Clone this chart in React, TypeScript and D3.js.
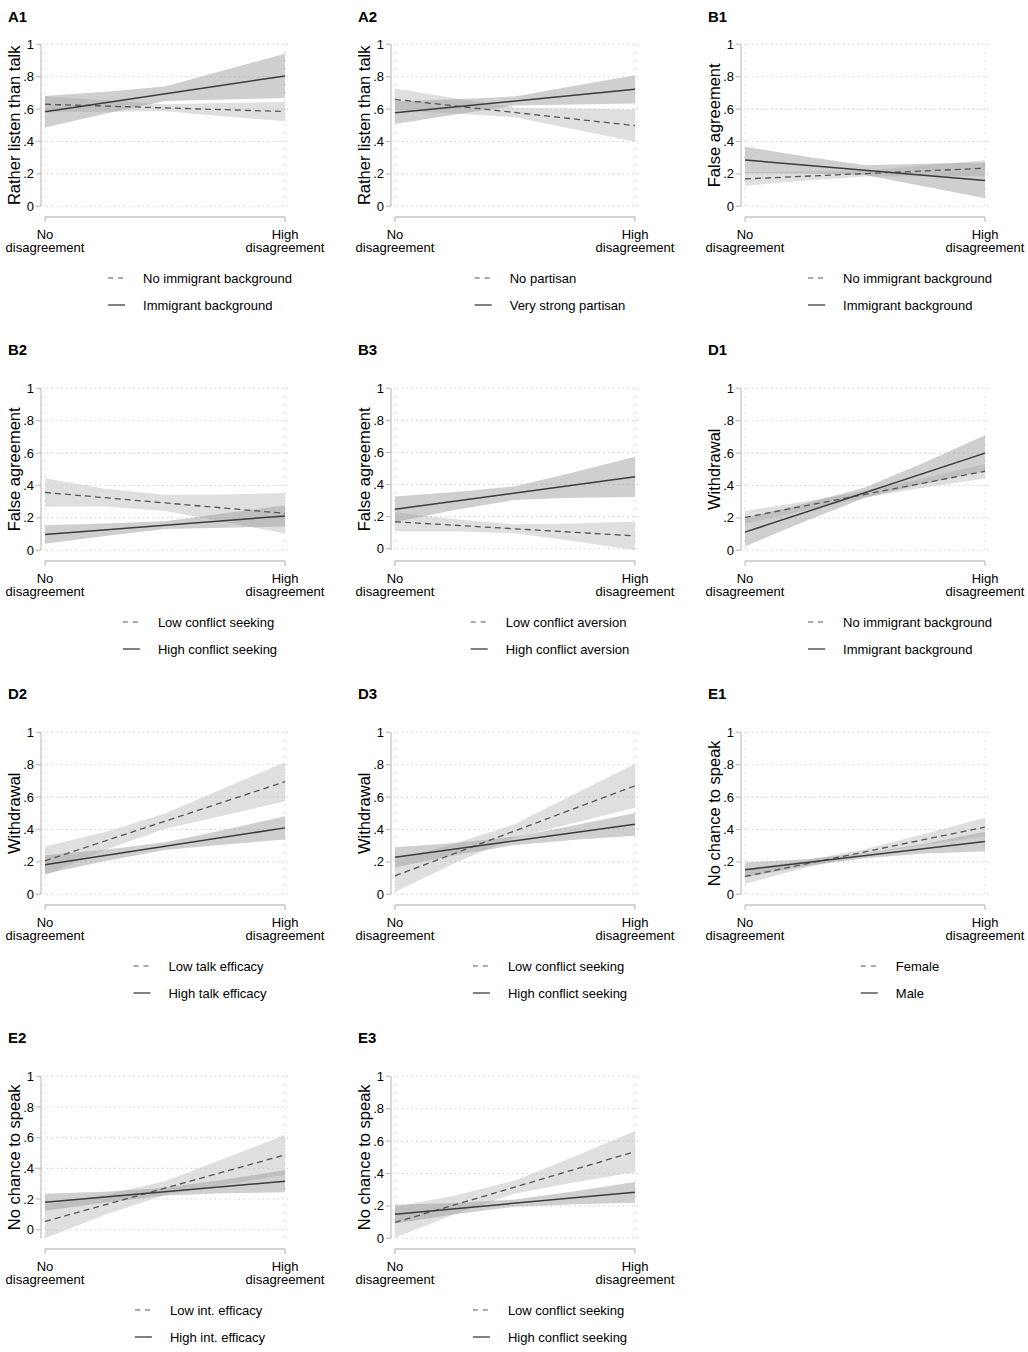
import React from "react";
import * as d3 from "d3";

// ---------- DATA ----------
const xPts = [0, 0.25, 0.5, 0.75, 1];
const xTickVals = [0, 1];
const xTickLines = [["No", "disagreement"], ["High", "disagreement"]];
const yTickVals = [0, 0.2, 0.4, 0.6, 0.8, 1];

const panelIds = ["A1", "A2", "B1", "B2", "B3", "D1", "D2", "D3", "E1", "E2", "E3"];
const yTitles = [
  "Rather listen than talk", "Rather listen than talk",
  "False agreement", "False agreement", "False agreement",
  "Withdrawal", "Withdrawal", "Withdrawal",
  "No chance to speak", "No chance to speak", "No chance to speak",
];
const dashNames = [
  "No immigrant background", "No partisan", "No immigrant background",
  "Low conflict seeking", "Low conflict aversion", "No immigrant background",
  "Low talk efficacy", "Low conflict seeking", "Female",
  "Low int. efficacy", "Low conflict seeking",
];
const solidNames = [
  "Immigrant background", "Very strong partisan", "Immigrant background",
  "High conflict seeking", "High conflict aversion", "Immigrant background",
  "High talk efficacy", "High conflict seeking", "Male",
  "High int. efficacy", "High conflict seeking",
];

// predicted values at No (0) and High (1) disagreement
const dashMean = [
  [0.63, 0.585], [0.66, 0.498], [0.169, 0.235], [0.357, 0.228], [0.168, 0.08],
  [0.203, 0.488], [0.207, 0.695], [0.114, 0.67], [0.11, 0.415], [0.054, 0.488], [0.098, 0.535],
];
const solidMean = [
  [0.584, 0.805], [0.578, 0.722], [0.286, 0.16], [0.098, 0.212], [0.246, 0.448],
  [0.112, 0.6], [0.183, 0.41], [0.228, 0.432], [0.151, 0.326], [0.179, 0.316], [0.149, 0.284],
];

// confidence bands at xPts
const dashLo = [
  [0.58, 0.584, 0.586, 0.555, 0.525],
  [0.593, 0.573, 0.549, 0.474, 0.398],
  [0.127, 0.157, 0.184, 0.185, 0.185],
  [0.269, 0.27, 0.243, 0.175, 0.103],
  [0.108, 0.108, 0.096, 0.047, -0.01],
  [0.163, 0.246, 0.326, 0.387, 0.443],
  [0.119, 0.274, 0.404, 0.488, 0.575],
  [0.014, 0.193, 0.35, 0.441, 0.535],
  [0.065, 0.164, 0.248, 0.304, 0.358],
  [-0.056, 0.098, 0.226, 0.295, 0.358],
  [0.003, 0.15, 0.277, 0.346, 0.407],
];
const dashHi = [
  [0.68, 0.654, 0.63, 0.637, 0.645],
  [0.727, 0.667, 0.609, 0.604, 0.598],
  [0.211, 0.215, 0.22, 0.253, 0.285],
  [0.445, 0.38, 0.343, 0.345, 0.353],
  [0.228, 0.184, 0.152, 0.157, 0.17],
  [0.243, 0.302, 0.366, 0.447, 0.533],
  [0.295, 0.384, 0.498, 0.658, 0.815],
  [0.214, 0.313, 0.434, 0.621, 0.805],
  [0.155, 0.208, 0.278, 0.374, 0.472],
  [0.164, 0.228, 0.316, 0.465, 0.618],
  [0.193, 0.264, 0.357, 0.506, 0.663],
];
const solidLo = [
  [0.487, 0.571, 0.65, 0.659, 0.668],
  [0.508, 0.567, 0.622, 0.628, 0.635],
  [0.204, 0.202, 0.193, 0.122, 0.05],
  [0.041, 0.088, 0.131, 0.139, 0.147],
  [0.166, 0.241, 0.305, 0.318, 0.322],
  [0.024, 0.179, 0.324, 0.413, 0.49],
  [0.125, 0.205, 0.273, 0.308, 0.338],
  [0.166, 0.241, 0.305, 0.336, 0.362],
  [0.105, 0.173, 0.223, 0.252, 0.266],
  [0.123, 0.178, 0.223, 0.237, 0.244],
  [0.091, 0.148, 0.195, 0.21, 0.22],
];
const solidHi = [
  [0.681, 0.707, 0.74, 0.841, 0.942],
  [0.648, 0.661, 0.678, 0.744, 0.809],
  [0.368, 0.308, 0.253, 0.262, 0.27],
  [0.155, 0.166, 0.179, 0.229, 0.277],
  [0.326, 0.353, 0.389, 0.478, 0.574],
  [0.2, 0.289, 0.388, 0.543, 0.71],
  [0.241, 0.275, 0.321, 0.398, 0.482],
  [0.29, 0.317, 0.355, 0.426, 0.502],
  [0.197, 0.217, 0.253, 0.312, 0.386],
  [0.235, 0.248, 0.273, 0.327, 0.388],
  [0.207, 0.218, 0.239, 0.29, 0.348],
];

// ---------- STYLE ----------
const FONT = "'Liberation Sans', Arial, Helvetica, sans-serif";
const AXIS = "#c4c4c4";
const GRID = "#c8c8c8";

let measureCtx: CanvasRenderingContext2D | null = null;
function textWidth(s: string, size: number): number {
  if (!measureCtx && typeof document !== "undefined") {
    measureCtx = document.createElement("canvas").getContext("2d");
  }
  if (measureCtx) {
    measureCtx.font = `${size}px ${FONT}`;
    return measureCtx.measureText(s).width;
  }
  return s.length * size * 0.52;
}

function fmtTick(v: number) {
  if (v === 0) return "0";
  if (v === 1) return "1";
  return d3.format(".1f")(v).replace(/^0/, "");
}

function Panel({ i }: { i: number }) {
  const col = i % 3;
  const row = Math.floor(i / 3);
  const ox = col * 350;
  const oy = row * 344;

  const x = d3.scaleLinear().domain([0, 1]).range([45, 285]);
  const yMin = Math.min(0, d3.min(dashLo[i]) as number, d3.min(solidLo[i]) as number);
  const y = d3.scaleLinear().domain([yMin, 1]).range([206.3, 44.3]);

  type B = { x: number; lo: number; hi: number };
  const area = d3
    .area<B>()
    .x((d) => x(d.x))
    .y0((d) => y(d.lo))
    .y1((d) => y(d.hi));
  const line = d3
    .line<{ x: number; v: number }>()
    .x((d) => x(d.x))
    .y((d) => y(d.v));

  const dashBand: B[] = xPts.map((xv, k) => ({ x: xv, lo: dashLo[i][k], hi: dashHi[i][k] }));
  const solidBand: B[] = xPts.map((xv, k) => ({ x: xv, lo: solidLo[i][k], hi: solidHi[i][k] }));
  const dashLine = xTickVals.map((xv, k) => ({ x: xv, v: dashMean[i][k] }));
  const solidLine = xTickVals.map((xv, k) => ({ x: xv, v: solidMean[i][k] }));

  const legW = 35 + Math.max(textWidth(dashNames[i], 13), textWidth(solidNames[i], 13));
  const legX = 200 - legW / 2;

  const titleY = row === 0 ? 22 : 11;
  const yTop = y(1);
  const yBot = y(yMin);

  return (
    <g transform={`translate(${ox},${oy})`}>
      <text x={8} y={titleY} fontSize={15} fontWeight="bold" fill="#000">
        {panelIds[i]}
      </text>

      {/* grid */}
      {yTickVals.map((v) => (
        <line
          key={"g" + v}
          x1={x(0) + 2}
          x2={x(1) + 5}
          y1={y(v)}
          y2={y(v)}
          stroke={GRID}
          strokeWidth={1.1}
          strokeDasharray="1.2 3.6"
        />
      ))}
      {xTickVals.map((v) => (
        <line
          key={"gv" + v}
          x1={x(v)}
          x2={x(v)}
          y1={yTop}
          y2={yBot}
          stroke={GRID}
          strokeWidth={1.1}
          strokeDasharray="1.2 6.8"
        />
      ))}

      {/* y axis */}
      <line x1={41} x2={41} y1={yTop} y2={yBot} stroke={AXIS} strokeWidth={1.3} />
      {yTickVals.map((v) => (
        <g key={"t" + v}>
          <line x1={36} x2={41} y1={y(v)} y2={y(v)} stroke={AXIS} strokeWidth={1.3} />
          <text x={34} y={y(v)} dy="0.35em" fontSize={13} textAnchor="end" fill="#000">
            {fmtTick(v)}
          </text>
        </g>
      ))}
      <text
        transform={`translate(20,${(yTop + 206.3) / 2}) rotate(-90)`}
        fontSize={16.5}
        textAnchor="middle"
        fill="#000"
      >
        {yTitles[i]}
      </text>

      {/* x axis */}
      <line x1={x(0)} x2={x(1)} y1={217} y2={217} stroke={AXIS} strokeWidth={1.3} />
      {xTickVals.map((v, k) => (
        <g key={"xt" + v}>
          <line x1={x(v)} x2={x(v)} y1={217} y2={222} stroke={AXIS} strokeWidth={1.3} />
          <text x={x(v)} y={239} fontSize={13} textAnchor="middle" fill="#000">
            {xTickLines[k][0]}
          </text>
          <text x={x(v)} y={251.5} fontSize={13} textAnchor="middle" fill="#000">
            {xTickLines[k][1]}
          </text>
        </g>
      ))}

      {/* bands */}
      <path d={area(dashBand) || ""} fill="#c8c8c8" fillOpacity={0.58} />
      <path d={area(solidBand) || ""} fill="#a0a0a0" fillOpacity={0.5} />

      {/* lines */}
      <path d={line(dashLine) || ""} fill="none" stroke="#555" strokeWidth={1.3} strokeDasharray="6 4" />
      <path d={line(solidLine) || ""} fill="none" stroke="#3c3c3c" strokeWidth={1.5} />

      {/* legend */}
      <line x1={legX} x2={legX + 17} y1={278} y2={278} stroke="#555" strokeWidth={1.2} strokeDasharray="5 5" />
      <text x={legX + 35} y={278} dy="0.35em" fontSize={13} fill="#000">
        {dashNames[i]}
      </text>
      <line x1={legX} x2={legX + 17} y1={305} y2={305} stroke="#3c3c3c" strokeWidth={1.3} />
      <text x={legX + 35} y={305} dy="0.35em" fontSize={13} fill="#000">
        {solidNames[i]}
      </text>
    </g>
  );
}

export default function App() {
  return (
    <svg
      width={1028}
      height={1352}
      style={{ position: "absolute", left: 0, top: 0, background: "#fff" }}
      fontFamily={FONT}
    >
      <rect x={0} y={0} width={1028} height={1352} fill="#fff" />
      {panelIds.map((id, i) => (
        <Panel key={id} i={i} />
      ))}
    </svg>
  );
}
